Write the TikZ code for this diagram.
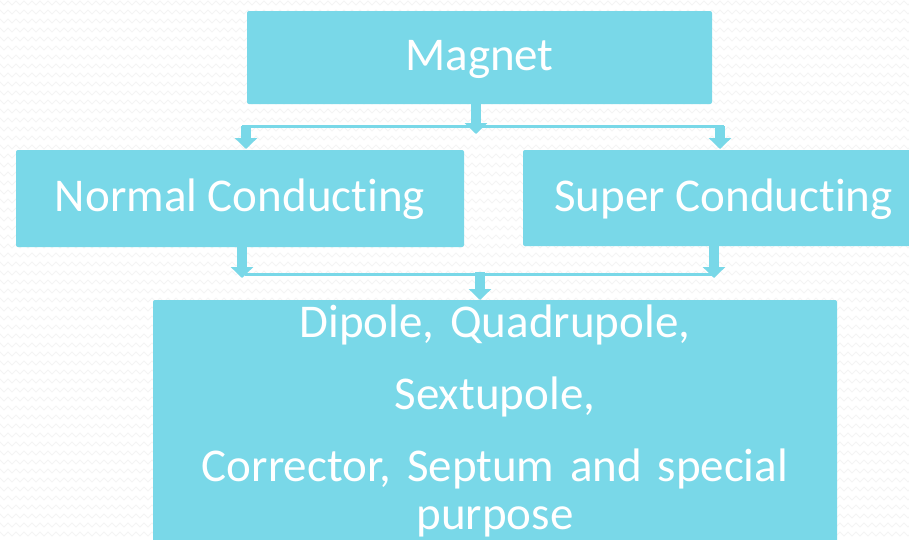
\documentclass[tikz,border=0pt]{standalone}
\usepackage{fontspec}
\setmainfont{Carlito}[Ligatures={NoCommon},RawFeature={-liga;-clig;-calt}]
\usetikzlibrary{arrows.meta,decorations.pathmorphing}
\definecolor{boxc}{RGB}{121,216,232}
\definecolor{zig}{RGB}{244,244,244}
\newcommand{\nolig}{\kern0pt }
\begin{document}
\begin{tikzpicture}[x=1pt,y=-1pt,
 box/.style={fill=boxc, draw=none, inner sep=0pt, rounded corners=2pt, text=white, text height=36pt, text depth=10pt, font=\fontsize{47}{56}\selectfont},
 txt/.style={inner sep=0pt, text=white, font=\fontsize{47}{48}\selectfont},
 fat/.style={draw=boxc, line width=10pt, -{Triangle[width=22pt,length=11pt]}},
 thinline/.style={draw=boxc, line width=3pt}]
\clip (0,0) rectangle (909,539);
\fill[white] (0,0) rectangle (909,539);
\foreach \i in {0,...,60}
  \draw[zig, line width=1pt, decorate, decoration={zigzag,segment length=8pt,amplitude=2pt}] (-10,\i*9+3) -- (920,\i*9+3);
% boxes
\node[box, minimum width=465pt, minimum height=93pt] (mag) at (479.5,57.5) {Magnet};
\node[box, minimum width=448pt, minimum height=97pt] (nc) at (240,198.5) {Normal Conduct\nolig ing};
\node[box, minimum width=401pt, minimum height=96pt] (sc) at (723.5,198) {Super Conduct\nolig ing};
\node[box, minimum width=684pt, minimum height=280pt] (bot) at (495,440) {};
\node[txt, text width=684pt, align=center, anchor=base] (bt) at (495,337)
  {Dipole, Quadrupole,\\[24pt]Sextupole,\\[24pt]Corrector, Septum and special\\purpose};
% connectors level 1
\coordinate (a0) at (476,104);
\coordinate (a1) at (476,134);
\coordinate (hl) at (242,126);
\coordinate (hr) at (724,126);
\coordinate (l1) at (246,126);
\coordinate (l2) at (246,149);
\coordinate (r1) at (720,126);
\coordinate (r2) at (720,149);
\draw[thinline] (hl) -- (hr);
\draw[fat] (a0) -- (a1);
\draw[fat] (l1) -- (l2);
\draw[fat] (r1) -- (r2);
% connectors level 2
\coordinate (b0) at (242,247);
\coordinate (b1) at (242,278);
\coordinate (c0) at (714,246);
\coordinate (c1) at (714,278);
\coordinate (gl) at (245,274);
\coordinate (gr) at (713,274);
\coordinate (d0) at (480,272);
\coordinate (d1) at (480,300);
\draw[thinline] (gl) -- (gr);
\draw[fat] (b0) -- (b1);
\draw[fat] (c0) -- (c1);
\draw[fat] (d0) -- (d1);
\end{tikzpicture}
\end{document}
